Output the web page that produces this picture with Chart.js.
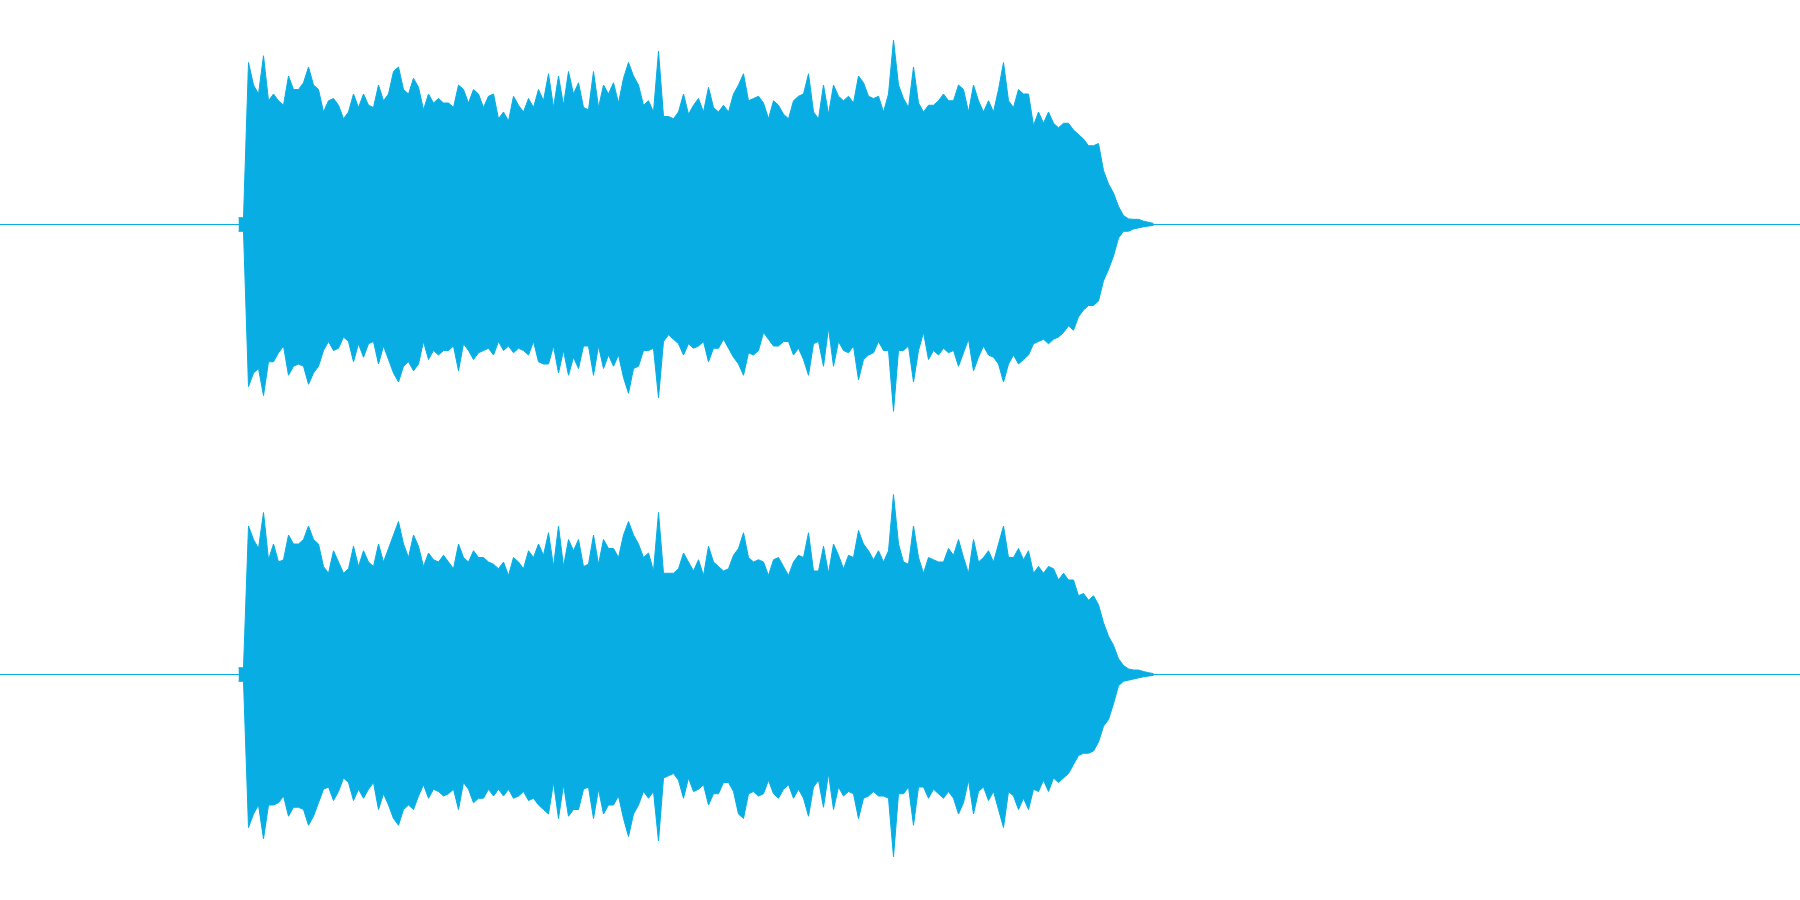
<!DOCTYPE html>
<html lang="en">
<head>
  <meta charset="UTF-8">
  <title>Waveform</title>
  <style>
    html, body {
      margin: 0;
      padding: 0;
      background: #ffffff;
      overflow: hidden;
    }
    .channel {
      width: 1800px;
      height: 450px;
    }
  </style>
</head>
<body>
  <div class="channel"><canvas id="leftChannel" width="1800" height="450"></canvas></div>
  <div class="channel"><canvas id="rightChannel" width="1800" height="450"></canvas></div>

  <script src="https://cdn.jsdelivr.net/npm/chart.js"></script>
  <script>
    // timeline in frames (5 px each), whole view is 360 frames
    const totalFrames = 360;
    const firstFrame = 47.2;

    // peak amplitudes in percent of full scale, one value per frame
    const leftMax = [
      3, 3,
      72, 62, 58, 75, 55, 58, 55, 53, 66, 60, 60, 63, 70, 62, 60, 50, 55, 56, 53, 47,
      50, 58, 52, 58, 53, 52, 62, 55, 58, 68, 70, 60, 58, 65, 61, 51, 58, 54, 56, 54,
      54, 52, 62, 60, 54,
      60, 58, 52, 57, 58, 47, 50, 46, 57, 53, 50, 56, 52, 60, 55, 67, 52, 66, 53, 68,
      58, 63, 52, 51, 68, 52, 62, 58, 63, 54, 65, 72, 66, 62, 53, 55, 50, 77, 48, 48,
      47, 50, 58, 49, 53, 56, 50, 61,
      52, 50, 53, 50, 58, 62, 67, 55, 56, 57, 54, 47, 55, 53, 49, 47, 55, 57, 58, 67,
      50, 47, 62, 49, 62, 57, 55, 57, 54, 66, 63, 57, 56, 57, 50, 58, 82, 62, 56, 52,
      70, 54, 50, 53, 53, 55, 58, 55,
      55, 62, 60, 50, 62, 55, 50, 55, 50, 60, 72, 55, 52, 60, 58, 58, 44, 50, 45, 50,
      45, 43, 45, 45, 42, 40, 38, 35, 35, 36, 24, 18, 14, 8, 4, 2.5, 2.3, 2.3, 1.5, 1,
      0.5
    ];
    const leftMin = [
      -3, -3,
      -72, -66, -64, -76, -61, -61, -57, -54, -67, -63, -62, -63, -71, -66, -63, -56, -52, -56, -55, -50,
      -52, -61, -53, -59, -53, -52, -62, -54, -60, -66, -70, -63, -61, -65, -62, -52, -60, -56, -58, -56,
      -56, -54, -65, -53, -56,
      -60, -57, -56, -55, -58, -52, -56, -54, -57, -55, -56, -58, -52, -61, -62, -62, -54, -66, -56, -67,
      -59, -64, -54, -54, -67, -54, -64, -58, -63, -58, -68, -75, -64, -63, -56, -56, -55, -77, -52, -49,
      -51, -53, -58, -53, -55, -54, -52, -61,
      -55, -55, -51, -55, -59, -62, -67, -57, -58, -56, -48, -51, -54, -54, -52, -52, -58, -55, -60, -67,
      -53, -52, -63, -46, -63, -52, -56, -57, -54, -69, -60, -58, -57, -52, -56, -56, -83, -56, -56, -54,
      -70, -56, -48, -60, -56, -58, -55, -57,
      -56, -63, -57, -51, -65, -59, -54, -58, -59, -62, -70, -62, -58, -62, -60, -58, -53, -52, -51, -53,
      -51, -50, -48, -45, -47, -41, -38, -36, -36, -34, -25, -20, -14, -6, -3, -3, -2, -1.5, -1, -0.7,
      -0.4
    ];
    const rightMax = [
      3, 3,
      66, 60, 56, 72, 51, 58, 50, 51, 62, 58, 58, 60, 66, 60, 58, 48, 45, 55, 50, 45,
      47, 57, 48, 55, 50, 48, 58, 50, 56, 62, 68, 58, 52, 62, 57, 48, 54, 51, 50, 53,
      50, 47, 58, 52, 50,
      55, 52, 52, 50, 49, 47, 50, 44, 52, 50, 47, 55, 52, 58, 53, 63, 48, 66, 48, 60,
      55, 60, 48, 49, 62, 49, 60, 56, 56, 52, 62, 68, 62, 58, 52, 54, 46, 72, 45, 45,
      45, 47, 54, 50, 46, 51, 44, 57,
      50, 48, 46, 47, 53, 56, 63, 52, 50, 51, 50, 44, 51, 52, 48, 44, 50, 53, 52, 63,
      46, 46, 57, 45, 58, 53, 47, 53, 52, 64, 58, 55, 51, 55, 50, 55, 80, 58, 50, 49,
      66, 52, 45, 52, 51, 50, 50, 56,
      53, 60, 52, 45, 60, 50, 52, 55, 50, 58, 66, 52, 52, 56, 51, 55, 45, 48, 45, 48,
      47, 42, 45, 42, 42, 35, 36, 33, 35, 31, 23, 17, 13, 7, 4, 2.5, 2, 2, 1.3, 0.8,
      0.4
    ];
    const rightMin = [
      -3, -3,
      -68, -62, -58, -73, -58, -58, -57, -54, -63, -59, -59, -60, -67, -63, -57, -51, -50, -56, -52, -46,
      -48, -56, -51, -55, -51, -48, -60, -53, -58, -64, -67, -60, -58, -60, -54, -49, -55, -51, -52, -54,
      -53, -51, -60, -48, -51,
      -57, -55, -55, -51, -54, -51, -54, -51, -55, -54, -52, -56, -55, -58, -60, -62, -48, -64, -49, -63,
      -60, -60, -51, -50, -64, -51, -62, -58, -58, -54, -64, -72, -62, -58, -52, -55, -52, -74, -46, -45,
      -44, -47, -55, -46, -52, -51, -49, -58,
      -53, -53, -48, -48, -52, -62, -64, -53, -52, -54, -53, -47, -53, -55, -51, -49, -55, -51, -55, -63,
      -50, -47, -59, -44, -60, -50, -54, -52, -53, -64, -55, -54, -52, -54, -54, -55, -81, -53, -53, -50,
      -67, -50, -50, -55, -51, -53, -55, -52,
      -55, -62, -57, -47, -62, -52, -50, -56, -52, -60, -68, -52, -54, -60, -55, -60, -51, -52, -47, -52,
      -46, -48, -46, -44, -40, -36, -35, -35, -34, -30, -23, -20, -13, -5, -3, -2.5, -2, -1.5, -1, -0.7,
      -0.4
    ];

    const waveColor = '#08aee3';

    function toPoints(values) {
      return values.map((v, i) => ({ x: firstFrame + i + 0.5, y: v }));
    }

    function drawChannel(canvasId, maxValues, minValues) {
      const ctx = document.getElementById(canvasId).getContext('2d');
      new Chart(ctx, {
        type: 'line',
        data: {
          datasets: [
            {
              label: 'max',
              data: toPoints(maxValues),
              borderColor: waveColor,
              backgroundColor: waveColor,
              borderWidth: 1,
              pointRadius: 0,
              tension: 0,
              fill: '+1'
            },
            {
              label: 'min',
              data: toPoints(minValues),
              borderColor: waveColor,
              backgroundColor: waveColor,
              borderWidth: 1,
              pointRadius: 0,
              tension: 0,
              fill: false
            },
            {
              label: 'zero',
              data: [{ x: 0, y: 0 }, { x: totalFrames, y: 0 }],
              borderColor: waveColor,
              borderWidth: 1,
              pointRadius: 0,
              fill: false
            }
          ]
        },
        options: {
          responsive: false,
          animation: false,
          events: [],
          layout: { padding: 0 },
          plugins: {
            legend: { display: false },
            tooltip: { enabled: false }
          },
          scales: {
            x: { type: 'linear', min: 0, max: totalFrames, display: false },
            // range nudged half a pixel so the zero line lands on one pixel row
            y: { min: -100.2222, max: 99.7778, display: false }
          }
        }
      });
    }

    drawChannel('leftChannel', leftMax, leftMin);
    drawChannel('rightChannel', rightMax, rightMin);
  </script>
</body>
</html>
